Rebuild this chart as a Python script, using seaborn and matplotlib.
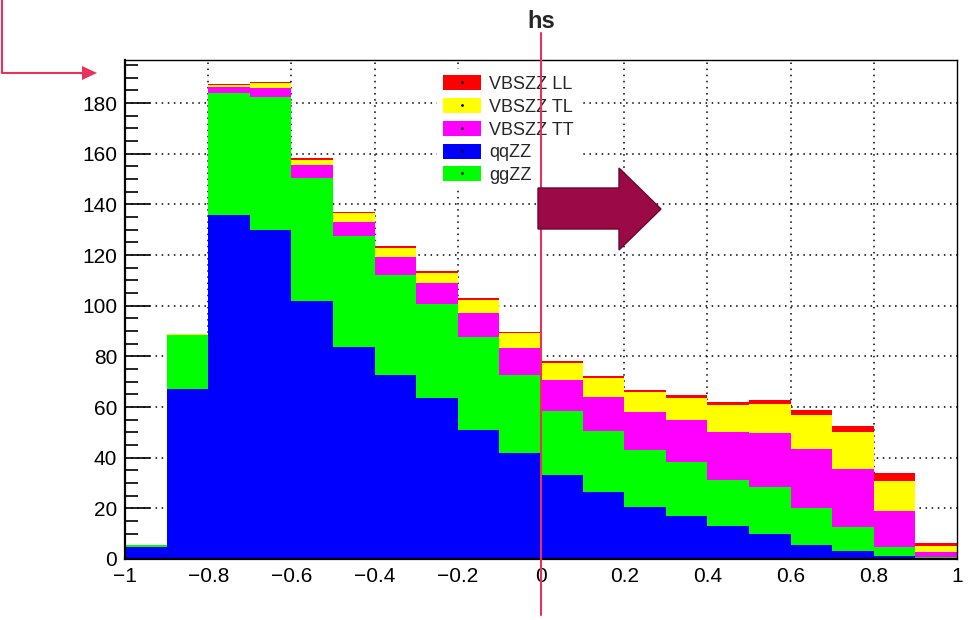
import matplotlib
matplotlib.use('Agg')
import matplotlib.pyplot as plt
import seaborn as sns
import pandas as pd
import numpy as np
from matplotlib.patches import Patch, Polygon
from matplotlib.lines import Line2D
from matplotlib.ticker import MultipleLocator
from matplotlib.legend_handler import HandlerTuple

# bin edges of the hs histogram (20 bins)
bin_edges = [-1.0, -0.9, -0.8, -0.7, -0.6, -0.5, -0.4, -0.3, -0.2, -0.1, 0.0,
             0.1, 0.2, 0.3, 0.4, 0.5, 0.6, 0.7, 0.8, 0.9, 1.0]

# events per bin for each process
qqzz = [4.8, 67.0, 135.8, 129.9, 102.0, 83.8, 72.6, 63.6, 51.0, 41.8,
        33.2, 26.6, 20.6, 17.0, 13.0, 9.9, 5.5, 3.3, 1.2, 0.5]
ggzz = [0.8, 21.4, 48.2, 52.6, 48.6, 43.7, 39.4, 37.1, 36.5, 30.8,
        25.2, 24.1, 22.4, 21.4, 18.2, 18.6, 14.8, 9.2, 3.4, 0.3]
vbs_tt = [0.05, 0.2, 2.2, 3.5, 4.9, 5.5, 7.3, 8.1, 9.5, 10.6,
          12.3, 13.3, 15.2, 16.5, 19.1, 21.4, 23.1, 22.9, 14.5, 2.0]
vbs_tl = [0.02, 0.2, 0.8, 1.8, 2.0, 3.5, 3.6, 4.2, 5.3, 5.9,
          6.8, 7.3, 7.6, 8.8, 10.5, 11.3, 13.4, 14.6, 11.8, 2.5]
vbs_ll = [0.01, 0.1, 0.5, 0.4, 0.8, 0.4, 0.7, 0.7, 0.6, 0.6,
          0.7, 0.9, 0.9, 0.9, 1.2, 1.6, 2.0, 2.5, 2.9, 0.9]

legend_labels = ['VBSZZ LL', 'VBSZZ TL', 'VBSZZ TT', 'qqZZ', 'ggZZ']
colors = {'VBSZZ LL': '#ff0000', 'VBSZZ TL': '#ffff00', 'VBSZZ TT': '#ff00ff',
          'qqZZ': '#0000ff', 'ggZZ': '#00ff00'}
# seaborn puts the first hue level on top of the stack
stack_order = ['VBSZZ LL', 'VBSZZ TL', 'VBSZZ TT', 'ggZZ', 'qqZZ']

x_ticks = [-1.0, -0.8, -0.6, -0.4, -0.2, 0.0, 0.2, 0.4, 0.6, 0.8, 1.0]
x_tick_labels = ['\u22121', '\u22120.8', '\u22120.6', '\u22120.4', '\u22120.2',
                 '0', '0.2', '0.4', '0.6', '0.8', '1']

# long table: one row per bin and process, weighted by the count
centers = [(a + b) / 2 for a, b in zip(bin_edges[:-1], bin_edges[1:])]
series = {'qqZZ': qqzz, 'ggZZ': ggzz, 'VBSZZ TT': vbs_tt,
          'VBSZZ TL': vbs_tl, 'VBSZZ LL': vbs_ll}
rows = []
for name, vals in series.items():
    for c, v in zip(centers, vals):
        rows.append({'hs': c, 'n': v, 'process': name})
df = pd.DataFrame(rows)

sns.set_theme(style='white')
plt.rcParams['font.family'] = ['Liberation Sans', 'DejaVu Sans']

fig = plt.figure(figsize=(9.74, 6.2), dpi=100)
ax = fig.add_axes([125 / 974, 1 - 559 / 620, 832 / 974, 499 / 620])

sns.histplot(data=df, x='hs', weights='n', hue='process', hue_order=stack_order,
             multiple='stack', bins=bin_edges, element='step', fill=True,
             palette=colors, alpha=1, linewidth=0, legend=False, ax=ax)

ax.set_xlim(-1, 1)
ax.set_ylim(0, 197)
ax.set_xlabel('')
ax.set_ylabel('')

# dotted grid under the histogram, ticks stay on top
for xv in x_ticks[1:-1]:
    ax.axvline(xv, color='black', lw=1.1, ls=(0, (1, 3)), zorder=0.5)
for yv in range(20, 181, 20):
    ax.axhline(yv, color='black', lw=1.1, ls=(0, (1, 3)), zorder=0.5)

ax.set_xticks(x_ticks)
ax.set_xticklabels(x_tick_labels)
ax.xaxis.set_minor_locator(MultipleLocator(0.05))
ax.yaxis.set_major_locator(MultipleLocator(20))
ax.yaxis.set_minor_locator(MultipleLocator(5))
ax.tick_params(axis='both', which='both', direction='in', colors='black',
               labelsize=15, width=1.2, top=False, right=False, pad=5.5)
ax.tick_params(axis='x', which='major', length=11, bottom=True)
ax.tick_params(axis='x', which='minor', length=5.5, bottom=True)
ax.tick_params(axis='y', which='major', length=18, left=True)
ax.tick_params(axis='y', which='minor', length=9, left=True)

for side in ['left', 'bottom']:
    ax.spines[side].set_linewidth(1.6)
for side in ['top', 'right']:
    ax.spines[side].set_linewidth(1.0)
for sp in ax.spines.values():
    sp.set_color('black')
    sp.set_zorder(3)

# legend (ROOT style swatches with small marker dot)
handles = [(Patch(facecolor=colors[l], edgecolor='none'),
            Line2D([], [], marker='.', ms=2, color='black', ls=''))
           for l in legend_labels]
leg = ax.legend(handles, legend_labels, loc='upper left',
                bbox_to_anchor=(437 / 974, 1 - 69 / 620),
                bbox_transform=fig.transFigure, fontsize=13,
                frameon=True, fancybox=False, framealpha=1,
                facecolor='white', edgecolor='none', borderpad=0.35,
                handlelength=2.1, handleheight=0.9, handletextpad=0.45,
                labelspacing=0.28, borderaxespad=0,
                handler_map={tuple: HandlerTuple(ndivide=1, pad=0)})
leg.set_zorder(5)

# title
fig.text(541 / 974, 1 - 21 / 620, 'hs', fontsize=17, fontweight='bold',
         ha='center', va='center')

# red cut line at hs = 0, running past the frame
ax.plot([0, 0], [1.054, -0.112], color='#e8325a', lw=1.5,
        transform=ax.get_xaxis_transform(), clip_on=False, zorder=6)

# big arrow showing the selected side
px = [(538, 188), (619, 188), (619, 168), (661, 209), (619, 250), (619, 229), (538, 229)]
arrow = Polygon([(x / 974, 1 - y / 620) for x, y in px], closed=True,
                facecolor='#9b0a47', edgecolor='#6a0530', lw=1,
                transform=fig.transFigure, zorder=7)
fig.add_artist(arrow)

# red elbow arrow in the top-left corner
fig.add_artist(Line2D([2 / 974, 2 / 974, 84 / 974],
                      [1.0, 1 - 73 / 620, 1 - 73 / 620],
                      color='#e8325a', lw=1.5, transform=fig.transFigure))
head = Polygon([(82 / 974, 1 - 66 / 620), (97 / 974, 1 - 73 / 620),
                (82 / 974, 1 - 80 / 620)], closed=True,
               facecolor='#e8325a', edgecolor='none', transform=fig.transFigure)
fig.add_artist(head)

fig.savefig('out.png', dpi=100)
